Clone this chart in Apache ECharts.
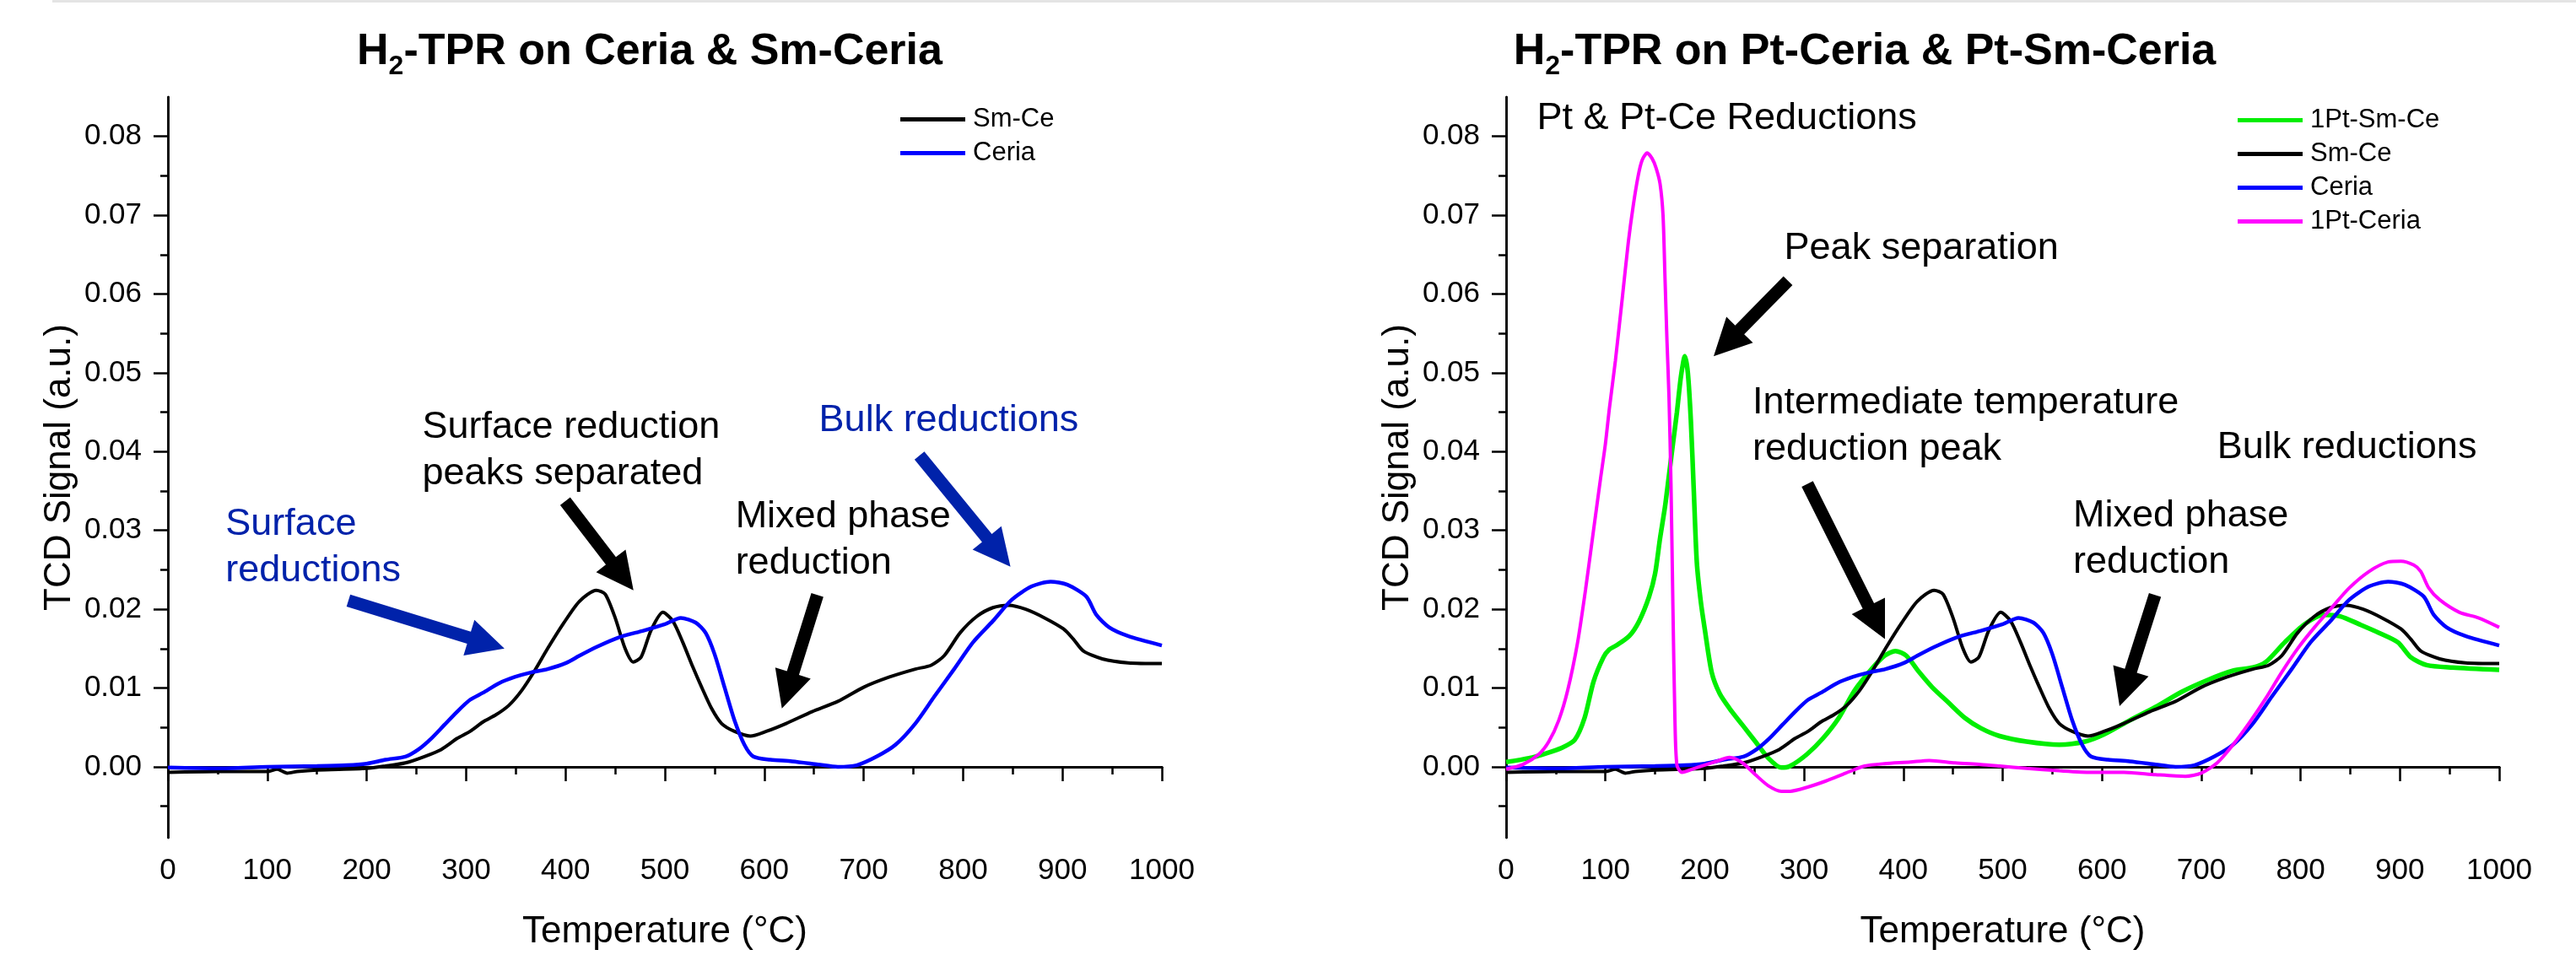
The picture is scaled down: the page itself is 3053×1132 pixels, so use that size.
<!DOCTYPE html>
<html><head><meta charset="utf-8">
<script src="https://cdn.jsdelivr.net/npm/echarts@6/dist/echarts.min.js"></script>
<style>html,body{margin:0;padding:0;background:#fff}#c{width:3053px;height:1132px}</style>
</head><body><div id="c"></div><script>
const FONT = "'Liberation Sans', Arial, sans-serif";

// ---------- data ----------
const yTickValues = [0, 0.01, 0.02, 0.03, 0.04, 0.05, 0.06, 0.07, 0.08];
const yMinorValues = [-0.005, 0.005, 0.015, 0.025, 0.035, 0.045, 0.055, 0.065, 0.075];

const tCeria = [0, 50, 100, 150, 180, 200, 219, 239, 252, 265, 278, 291, 304, 317, 333, 349, 366, 382, 401, 414, 431, 453, 479, 500, 516, 531, 541, 550, 560, 570, 580, 589, 606, 628, 654, 674, 693, 713, 732, 752, 771, 791, 810, 830, 849, 869, 888, 905, 924, 934, 947, 966, 1000];
const vCeria = [-0.0001, -0.0002, 0.0000, 0.0001, 0.0002, 0.0004, 0.0009, 0.0013, 0.0022, 0.0036, 0.0053, 0.0070, 0.0085, 0.0094, 0.0106, 0.0114, 0.0120, 0.0124, 0.0132, 0.0141, 0.0152, 0.0164, 0.0173, 0.0181, 0.0189, 0.0183, 0.0170, 0.0143, 0.0101, 0.0059, 0.0028, 0.0013, 0.0009, 0.0007, 0.0003, 0.0000, 0.0002, 0.0013, 0.0028, 0.0055, 0.0089, 0.0124, 0.0158, 0.0185, 0.0212, 0.0229, 0.0235, 0.0231, 0.0216, 0.0193, 0.0177, 0.0166, 0.0154];

const tSmCe = [0, 50, 100, 110, 120, 130, 150, 200, 219, 239, 258, 275, 291, 304, 317, 330, 343, 356, 369, 382, 398, 414, 431, 440, 450, 460, 468, 476, 486, 498, 508, 518, 528, 537, 547, 557, 570, 586, 602, 622, 648, 674, 700, 726, 752, 768, 781, 797, 814, 830, 846, 863, 882, 901, 911, 921, 940, 966, 1000];
const vSmCe = [-0.0007, -0.0006, -0.0006, -0.0003, -0.0008, -0.0006, -0.0004, -0.0002, 0.0001, 0.0005, 0.0013, 0.0022, 0.0036, 0.0045, 0.0057, 0.0066, 0.0078, 0.0097, 0.0122, 0.0150, 0.0182, 0.0210, 0.0224, 0.0219, 0.0189, 0.0150, 0.0133, 0.0139, 0.0173, 0.0196, 0.0185, 0.0158, 0.0127, 0.0101, 0.0074, 0.0055, 0.0045, 0.0039, 0.0045, 0.0055, 0.0070, 0.0083, 0.0101, 0.0114, 0.0124, 0.0129, 0.0141, 0.0170, 0.0191, 0.0202, 0.0205, 0.0200, 0.0189, 0.0175, 0.0162, 0.0147, 0.0137, 0.0132, 0.0131];

const tPtSmCe = [0, 23, 40, 56, 69, 79, 88, 98, 104, 111, 124, 134, 144, 150, 155, 160, 164, 168, 172, 176, 180, 183, 186, 189, 192, 196, 200, 207, 215, 225, 238, 251, 264, 277, 286, 303, 319, 335, 351, 368, 381, 392, 403, 416, 429, 445, 462, 478, 497, 524, 557, 583, 602, 628, 654, 680, 706, 732, 752, 765, 784, 804, 823, 840, 859, 879, 898, 911, 927, 953, 1000];
const vPtSmCe = [0.0006, 0.0011, 0.0017, 0.0024, 0.0034, 0.0062, 0.0108, 0.0139, 0.0149, 0.0154, 0.0166, 0.0185, 0.0216, 0.0245, 0.0290, 0.0330, 0.0370, 0.0410, 0.0450, 0.0495, 0.0521, 0.0500, 0.0440, 0.0350, 0.0260, 0.0210, 0.0175, 0.0120, 0.0093, 0.0074, 0.0053, 0.0032, 0.0011, -0.0001, 0.0001, 0.0016, 0.0036, 0.0062, 0.0097, 0.0124, 0.0141, 0.0147, 0.0141, 0.0120, 0.0101, 0.0082, 0.0062, 0.0049, 0.0039, 0.0032, 0.0028, 0.0032, 0.0041, 0.0059, 0.0076, 0.0095, 0.0110, 0.0122, 0.0126, 0.0133, 0.0158, 0.0181, 0.0193, 0.0191, 0.0181, 0.0170, 0.0158, 0.0139, 0.0129, 0.0126, 0.0123];

const tPtCeria = [0, 17, 33, 43, 53, 62, 72, 80, 88, 95, 100, 104, 110, 117, 123, 128, 133, 137, 142, 147, 151, 155, 158, 160, 162, 164, 166, 168, 170, 172, 177, 192, 212, 225, 238, 251, 264, 277, 286, 303, 322, 342, 361, 381, 407, 426, 452, 478, 497, 524, 557, 589, 622, 654, 684, 700, 716, 732, 749, 765, 781, 797, 814, 830, 849, 869, 888, 901, 914, 921, 929, 940, 960, 979, 1000];
const vPtCeria = [-0.0003, 0.0003, 0.0016, 0.0032, 0.0059, 0.0097, 0.0158, 0.0225, 0.0300, 0.0365, 0.0410, 0.0455, 0.0515, 0.0595, 0.0665, 0.0712, 0.0750, 0.0770, 0.0779, 0.0772, 0.0760, 0.0740, 0.0700, 0.0620, 0.0540, 0.0470, 0.0360, 0.0200, 0.0060, 0.0002, -0.0007, -0.0001, 0.0007, 0.0012, 0.0005, -0.0010, -0.0024, -0.0031, -0.0031, -0.0026, -0.0018, -0.0008, 0.0001, 0.0004, 0.0006, 0.0008, 0.0005, 0.0003, 0.0001, -0.0002, -0.0005, -0.0007, -0.0007, -0.0010, -0.0012, -0.0008, 0.0005, 0.0028, 0.0057, 0.0087, 0.0120, 0.0150, 0.0177, 0.0200, 0.0227, 0.0248, 0.0260, 0.0261, 0.0256, 0.0248, 0.0227, 0.0212, 0.0196, 0.0189, 0.0177];

const pairs = (t, v) => t.map((x, i) => [x, v[i]]);

// ---------- styles ----------
const BLACK = '#000000', BLUE = '#0000ff', GREEN = '#00ee00', MAGENTA = '#ff00ff', NAVY = '#0022aa';
const Y_MIN = -0.009, Y_MAX = 0.085;

function xAxes(grid) {
  return [{
    gridIndex: grid, type: 'value', min: 0, max: 1000, interval: 100, position: 'bottom',
    axisLine: { lineStyle: { color: '#000', width: 3 } },
    axisTick: { length: 17, lineStyle: { color: '#000', width: 2.5 } },
    minorTick: { show: true, splitNumber: 2, length: 9, lineStyle: { color: '#000', width: 2.5 } },
    axisLabel: { fontSize: 35, color: '#000', fontFamily: FONT, margin: 22, formatter: v => String(v) },
    splitLine: { show: false }, minorSplitLine: { show: false },
    name: 'Temperature (°C)', nameLocation: 'middle', nameGap: 90,
    nameTextStyle: { fontSize: 44, color: '#000', fontFamily: FONT }
  }, {
    gridIndex: grid, type: 'value', min: 0, max: 1000, position: 'top',
    axisLine: { lineStyle: { color: '#000', width: 3 } },
    axisTick: { show: false }, axisLabel: { show: false }, splitLine: { show: false }
  }];
}
function yAxes(grid) {
  return [{
    gridIndex: grid, type: 'value', min: Y_MIN, max: Y_MAX, position: 'left',
    axisLine: { lineStyle: { color: '#000', width: 2.5 } },
    axisTick: { customValues: yTickValues, length: 17, lineStyle: { color: '#000', width: 2.5 } },
    axisLabel: { customValues: yTickValues, formatter: v => v.toFixed(2), fontSize: 35, color: '#000', fontFamily: FONT, margin: 31 },
    splitLine: { show: false },
    name: 'TCD Signal (a.u.)', nameLocation: 'middle', nameGap: 106,
    nameTextStyle: { fontSize: 44, color: '#000', fontFamily: FONT }
  }, {
    gridIndex: grid, type: 'value', min: Y_MIN, max: Y_MAX, position: 'right',
    axisLine: { lineStyle: { color: '#000', width: 2.5 } },
    axisTick: { show: false }, axisLabel: { show: false }, splitLine: { show: false }
  }, {
    gridIndex: grid, type: 'value', min: Y_MIN, max: Y_MAX, position: 'left',
    axisLine: { show: false },
    axisTick: { customValues: yMinorValues, length: 9, lineStyle: { color: '#000', width: 2.5 } },
    axisLabel: { show: false }, splitLine: { show: false }
  }];
}
function line(name, data, color, width, xi, yi) {
  return { type: 'line', name, data, xAxisIndex: xi, yAxisIndex: yi, color,
    symbol: 'none', smooth: 0.25, lineStyle: { color, width }, animation: false };
}
const legendBase = {
  orient: 'vertical', icon: 'rect', itemWidth: 77, itemHeight: 5, itemGap: 9,
  selectedMode: false,
  textStyle: { fontSize: 31, color: '#000', fontFamily: FONT, lineHeight: 31, padding: [0, 0, 0, 4] }
};

const chart = echarts.init(document.getElementById('c'), null, { renderer: 'canvas' });
chart.setOption({
  backgroundColor: '#fff',
  animation: false,
  grid: [
    { left: 199, top: 115, width: 1178, height: 878 },
    { left: 1785, top: 115, width: 1177, height: 878 }
  ],
  xAxis: [...xAxes(0), ...xAxes(1)],
  yAxis: [...yAxes(0), ...yAxes(1)],
  legend: [
    Object.assign({}, legendBase, { data: ['Sm-Ce', 'Ceria'], left: 1062, top: 121 }),
    Object.assign({}, legendBase, { data: ['1Pt-Sm-Ce', 'Sm-Ce', 'Ceria', '1Pt-Ceria'], left: 2647, top: 122 })
  ],
  series: [
    line('Sm-Ce', pairs(tSmCe, vSmCe), BLACK, 4, 0, 0),
    line('Ceria', pairs(tCeria, vCeria), BLUE, 4.5, 0, 0),
    line('1Pt-Sm-Ce', pairs(tPtSmCe, vPtSmCe), GREEN, 5.5, 2, 3),
    line('Sm-Ce', pairs(tSmCe, vSmCe), BLACK, 4, 2, 3),
    line('Ceria', pairs(tCeria, vCeria), BLUE, 4.5, 2, 3),
    line('1Pt-Ceria', pairs(tPtCeria, vPtCeria), MAGENTA, 4, 2, 3)
  ]
});

// ---------- annotations (anchored in data space) ----------
const notes = [
  { g: 0, lines: ['Surface reduction', 'peaks separated'], at: [256, 0.0414], color: BLACK },
  { g: 0, lines: ['Surface', 'reductions'], at: [58, 0.0291], color: NAVY },
  { g: 0, lines: ['Bulk reductions'], at: [655, 0.0423], color: NAVY },
  { g: 0, lines: ['Mixed phase', 'reduction'], at: [571, 0.0301], color: BLACK },
  { g: 1, lines: ['Pt & Pt-Ce Reductions'], at: [31, 0.0806], color: BLACK },
  { g: 1, lines: ['Peak separation'], at: [280, 0.0641], color: BLACK },
  { g: 1, lines: ['Intermediate temperature', 'reduction peak'], at: [248, 0.0445], color: BLACK },
  { g: 1, lines: ['Bulk reductions'], at: [716, 0.0389], color: BLACK },
  { g: 1, lines: ['Mixed phase', 'reduction'], at: [571, 0.0302], color: BLACK }
];
const arrows = [
  { g: 0, from: [181.6, 0.0211], to: [338.6, 0.0150], color: NAVY },
  { g: 0, from: [399.7, 0.0337], to: [468.4, 0.0224], color: BLACK },
  { g: 0, from: [653.4, 0.0218], to: [617.7, 0.0074], color: BLACK },
  { g: 0, from: [756.1, 0.0395], to: [847.7, 0.0254], color: NAVY },
  { g: 1, from: [283.8, 0.0617], to: [209.0, 0.0521], color: BLACK },
  { g: 1, from: [303.3, 0.0359], to: [381.5, 0.0162], color: BLACK },
  { g: 1, from: [653.4, 0.0218], to: [617.7, 0.0077], color: BLACK }
];
const finder = g => (g === 0 ? { xAxisIndex: 0, yAxisIndex: 0 } : { xAxisIndex: 2, yAxisIndex: 3 });
const NOTE_SIZE = 45, NOTE_GAP = 55;

function arrowPts(p0, p1, sw, hw, hl) {
  const dx = p1[0] - p0[0], dy = p1[1] - p0[1], L = Math.hypot(dx, dy);
  const ux = dx / L, uy = dy / L, nx = -uy, ny = ux;
  const b = [p1[0] - ux * hl, p1[1] - uy * hl];
  return [
    [p0[0] + nx * sw / 2, p0[1] + ny * sw / 2],
    [b[0] + nx * sw / 2, b[1] + ny * sw / 2],
    [b[0] + nx * hw / 2, b[1] + ny * hw / 2],
    p1,
    [b[0] - nx * hw / 2, b[1] - ny * hw / 2],
    [b[0] - nx * sw / 2, b[1] - ny * sw / 2],
    [p0[0] - nx * sw / 2, p0[1] - ny * sw / 2]
  ];
}

const graphics = [
  { type: 'rect', shape: { x: 62, y: 0, width: 2991, height: 3 }, style: { fill: '#e4e4e4' }, silent: true },
  { type: 'text', x: 770, y: 29, style: {
      text: '{b|H}{s|2}{b|-TPR on Ceria & Sm-Ceria}', align: 'center', verticalAlign: 'top',
      rich: { b: { fontSize: 52, fontWeight: 'bold', fontFamily: FONT, lineHeight: 66, fill: '#000' },
              s: { fontSize: 32, fontWeight: 'bold', fontFamily: FONT, lineHeight: 32, verticalAlign: 'bottom', fill: '#000' } } } },
  { type: 'text', x: 2210, y: 29, style: {
      text: '{b|H}{s|2}{b|-TPR on Pt-Ceria & Pt-Sm-Ceria}', align: 'center', verticalAlign: 'top',
      rich: { b: { fontSize: 52, fontWeight: 'bold', fontFamily: FONT, lineHeight: 66, fill: '#000' },
              s: { fontSize: 32, fontWeight: 'bold', fontFamily: FONT, lineHeight: 32, verticalAlign: 'bottom', fill: '#000' } } } }
];
notes.forEach(n => {
  const p = chart.convertToPixel(finder(n.g), n.at);
  n.lines.forEach((t, i) => {
    graphics.push({ type: 'text', x: p[0], y: p[1] + i * NOTE_GAP - 0.34 * NOTE_SIZE, z: 10,
      style: { text: t, fill: n.color, fontSize: NOTE_SIZE, fontFamily: FONT, align: 'left', verticalAlign: 'middle' } });
  });
});
arrows.forEach(a => {
  const p0 = chart.convertToPixel(finder(a.g), a.from);
  const p1 = chart.convertToPixel(finder(a.g), a.to);
  graphics.push({ type: 'polygon', z: 10, shape: { points: arrowPts(p0, p1, 15, 44, 44) }, style: { fill: a.color } });
});
chart.setOption({ graphic: graphics });
</script></body></html>
